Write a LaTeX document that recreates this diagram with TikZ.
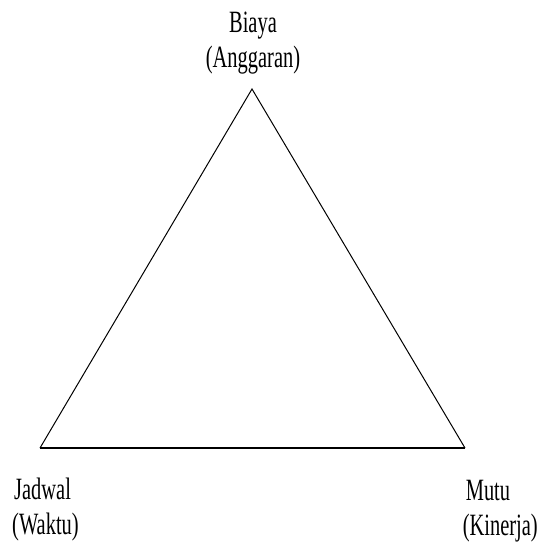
\documentclass[tikz,border=0pt]{standalone}
\usepackage{fontspec}
\setmainfont{Liberation Serif}[FakeStretch=0.66]
\usetikzlibrary{positioning}

\begin{document}
\begin{tikzpicture}[x=1pt, y=-1pt,
  corner/.style={font=\fontsize{31}{35}\selectfont, inner sep=0pt},
  side/.style={line width=1pt, black},
  base/.style={line width=2pt, black}]

\useasboundingbox (0,0) rectangle (539,542);

\coordinate (apex) at (252,89);
\coordinate (jadwalpt) at (40,448);
\coordinate (mutupt) at (465,448);

\node[corner, align=center, anchor=north] (biaya) at (253,12) {Biaya\\(Anggaran)};
\node[corner, align=left, anchor=north west] (jadwal) at (12,478) {\hspace{2pt}Jadwal\\(Waktu)};
\node[corner, align=left, anchor=north east] (mutu) at (538,480) {\hspace{3pt}Mutu\\(Kinerja)};

\draw[side] (jadwalpt) -- (apex) -- (mutupt);
\draw[base] (jadwalpt) -- (mutupt);

\end{tikzpicture}
\end{document}
